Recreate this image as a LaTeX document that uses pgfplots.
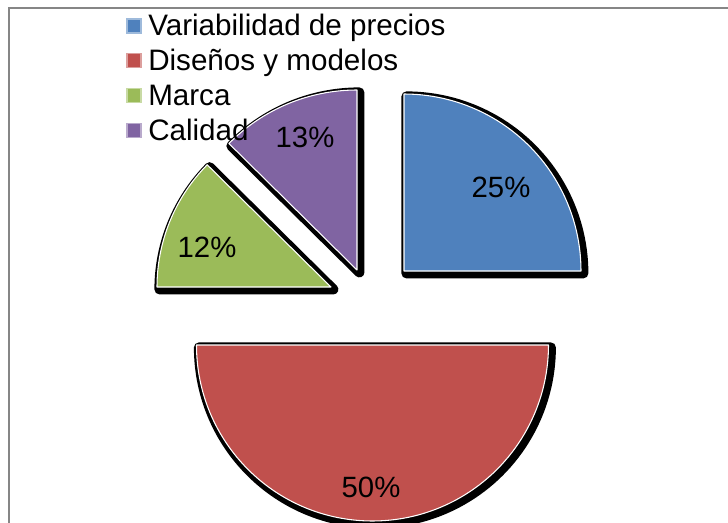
\documentclass[border=0pt]{standalone}
\usepackage{pgfplots}
\pgfplotsset{compat=1.18}
\usepackage{fontspec}
\setmainfont{Liberation Sans}
\definecolor{cBlue}{HTML}{4F81BD}
\definecolor{cRed}{HTML}{C0504D}
\definecolor{cGreen}{HTML}{9BBB59}
\definecolor{cPurple}{HTML}{8064A2}
\definecolor{frameGray}{HTML}{868686}
% slice: cx, cy, r (px), start angle, end angle
\newcommand{\sliceshadow}[5]{%
  \filldraw[black, line width=7.5pt, line join=round]
    ([shift={(1.8pt,-1.8pt)}]axis cs:#1,#2) -- ++(#4:{#3*0.75pt})
    arc[start angle=#4, end angle=#5, radius={#3*0.75pt}] -- cycle;}
\newcommand{\slicefill}[6]{%
  \filldraw[fill=#6, draw=white, line width=0.8pt, line join=round]
    (axis cs:#1,#2) -- ++(#4:{#3*0.75pt})
    arc[start angle=#4, end angle=#5, radius={#3*0.75pt}] -- cycle;}
\begin{document}
\begin{tikzpicture}
% data (percent shares)
\def\vA{25}   % Variabilidad de precios
\def\vB{50}   % Disenos y modelos
\def\vC{12.4} % Marca
\def\vD{12.6} % Calidad
\pgfmathsetmacro{\aA}{90}
\pgfmathsetmacro{\aB}{\aA-\vA*3.6}
\pgfmathsetmacro{\aC}{\aB-\vB*3.6}
\pgfmathsetmacro{\aD}{\aC-\vC*3.6}
\pgfmathsetmacro{\aE}{\aD-\vD*3.6}
\begin{axis}[at={(0,0)}, anchor=south west,
  x=0.75pt, y=0.75pt, xmin=0, xmax=728, ymin=0, ymax=522,
  hide axis, clip=false]
% frame
\draw[frameGray, line width=1.5pt] (axis cs:9,-30) -- (axis cs:9,514) -- (axis cs:760,514);
% shadows
\sliceshadow{404}{251}{177}{\aB}{\aA}
\sliceshadow{372.5}{177}{176}{\aC}{\aB}
\sliceshadow{331}{235}{174}{\aD}{\aC}
\sliceshadow{357}{252}{180}{\aE}{\aD}
% slices
\slicefill{404}{251}{177}{\aB}{\aA}{cBlue}
\slicefill{372.5}{177}{176}{\aC}{\aB}{cRed}
\slicefill{331}{235}{174}{\aD}{\aC}{cGreen}
\slicefill{357}{252}{180}{\aE}{\aD}{cPurple}
% percent labels
\node[anchor=base, font=\fontsize{22}{26}\selectfont] at (axis cs:501,324) {25\%};
\node[anchor=base, font=\fontsize{22}{26}\selectfont] at (axis cs:371,25) {50\%};
\node[anchor=base, font=\fontsize{22}{26}\selectfont] at (axis cs:207,265) {12\%};
\node[anchor=base, font=\fontsize{22}{26}\selectfont] at (axis cs:305,374) {13\%};
% legend
\filldraw[fill=cBlue, draw=cBlue!55!white, line width=0.8pt] (axis cs:127,489) rectangle (axis cs:141,503);
\filldraw[fill=cRed, draw=cRed!55!white, line width=0.8pt] (axis cs:127,454.3) rectangle (axis cs:141,468.3);
\filldraw[fill=cGreen, draw=cGreen!55!white, line width=0.8pt] (axis cs:127,419.6) rectangle (axis cs:141,433.6);
\filldraw[fill=cPurple, draw=cPurple!55!white, line width=0.8pt] (axis cs:127,384.9) rectangle (axis cs:141,398.9);
\node[anchor=base west, inner sep=0pt, font=\fontsize{22.2}{26}\selectfont] at (axis cs:148,486) {Variabilidad de precios};
\node[anchor=base west, inner sep=0pt, font=\fontsize{22.2}{26}\selectfont] at (axis cs:148,451.3) {Diseños y modelos};
\node[anchor=base west, inner sep=0pt, font=\fontsize{22.2}{26}\selectfont] at (axis cs:148,416.6) {Marca};
\node[anchor=base west, inner sep=0pt, font=\fontsize{22.2}{26}\selectfont] at (axis cs:148,381.9) {Calidad};
\end{axis}
\pgfresetboundingbox
\path[use as bounding box] (0,0) rectangle (546pt,391.5pt);
\end{tikzpicture}
\end{document}
